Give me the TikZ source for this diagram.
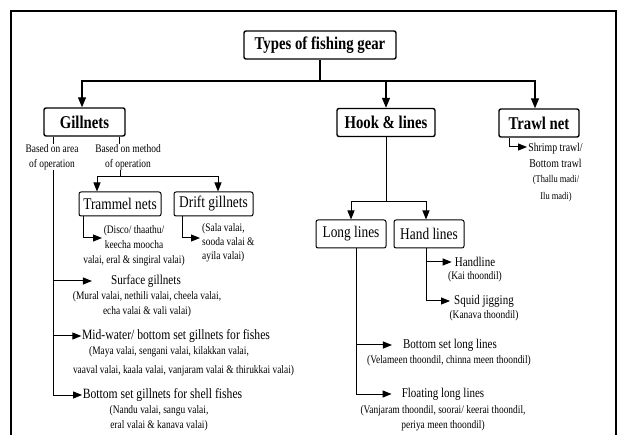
\documentclass[tikz,border=0pt]{standalone}
\usepackage{fontspec}
\setmainfont{Liberation Serif}[FakeStretch=0.82]
\usetikzlibrary{arrows.meta,calc}
\begin{document}
\begin{tikzpicture}[x=1pt,y=-1pt,
  box/.style={draw, rounded corners=2pt, line width=1.4pt, inner sep=0pt, minimum height=28pt, font=\bfseries\fontsize{18}{20}\selectfont},
  subbox/.style={draw, rounded corners=2pt, line width=1pt, inner sep=0pt, minimum height=24pt, font=\fontsize{16.3}{18}\selectfont},
  ln/.style={line width=1pt},
  arr/.style={line width=1.2pt, -{Triangle[length=10pt,width=8pt]}},
  sarr/.style={line width=1pt, -{Triangle[length=9pt,width=7pt]}},
  mid/.style={inner sep=0pt, font=\fontsize{13.4}{15}\selectfont},
  midg/.style={inner sep=0pt, font=\fontsize{14.2}{15}\selectfont},
  small/.style={inner sep=0pt, align=center, font=\fontsize{11.5}{15}\selectfont},
]
\useasboundingbox (0,0) rectangle (621,435);
\draw[line width=1.3pt] (11,11) rectangle (616,460);

% top level
\node[box, minimum width=152pt] (title) at (320,45) {Types of fishing gear};
\node[box, minimum width=81pt] (gill) at (84.5,122) {Gillnets};
\node[box, minimum width=98pt] (hook) at (386,122.5) {Hook \& lines};
\node[box, minimum width=80pt] (trawl) at (539,123) {Trawl net};
\coordinate (bus) at (320,81);
\draw[line width=1.2pt] (title.south) -- (bus);
\draw[arr] (bus) -| ([xshift=-2.5pt]gill.north);
\draw[arr] (bus) -| (hook.north);
\draw[arr] (bus) -| ([xshift=-4pt]trawl.north);

% gillnets
\node[small] (area) at (52,157) {Based on area\\of operation};
\node[small] (meth) at (128,157) {Based on method\\of operation};
\coordinate (ax) at (53,0);
\coordinate (mx) at (119,0);
\draw[ln] (gill.south -| ax) -- (area.north -| ax);
\draw[ln] (gill.south -| mx) -- (meth.north -| mx);
\coordinate (split) at (120,177);
\draw[ln] (meth.south -| split) -- (split);
\node[subbox, minimum width=82pt] (tram) at (120,204) {Trammel nets};
\node[subbox, minimum width=79pt] (drift) at (213.5,204) {Drift gillnets};
\draw[sarr] (split) -| ([xshift=-23pt]tram.north);
\draw[sarr] (split) -| ([xshift=4.5pt]drift.north);

\node[small] (tramsub) at (134,245.5) {(Disco/ thaathu/\\keecha moocha\\valai, eral \& singiral valai)};
\coordinate (tt) at (102,238);
\draw[sarr] ([xshift=-37pt]tram.south) |- (tt);
\node[small, align=left, anchor=west, font=\fontsize{11.5}{14}\selectfont] (driftsub) at (202,243) {(Sala valai,\\sooda valai \&\\ayila valai)};
\coordinate (dt) at (200,238);
\draw[sarr] ([xshift=-31.5pt]drift.south) |- (dt);

\node[midg, font=\fontsize{13.6}{15}\selectfont] (surf) at (146,281) {Surface gillnets};
\node[small] (surfsub) at (147,304.5) {(Mural valai, nethili valai, cheela valai,\\echa valai \& vali valai)};
\node[midg] (midw) at (176,336) {Mid-water/ bottom set gillnets for fishes};
\node[small] (midsub1) at (169,352) {(Maya valai, sengani valai, kilakkan valai,};
\node[small] (midsub2) at (183.5,371) {vaaval valai, kaala valai, vanjaram valai \& thirukkai valai)};
\node[midg] (botg) at (162.5,395) {Bottom set gillnets for shell fishes};
\node[small] (botgsub) at (159,418.5) {(Nandu valai, sangu valai,\\eral valai \& kanava valai)};
\draw[sarr] (area.south -| ax) |- ([xshift=-19pt]surf.west);
\draw[sarr] (area.south -| ax) |- ([xshift=-0.5pt]midw.west);
\draw[sarr] (area.south -| ax) |- ([xshift=-0.5pt]botg.west);

% hook & lines
\coordinate (hsplit) at (386,202);
\draw[ln] (hook.south) -- (hsplit);
\node[subbox, minimum width=70pt, minimum height=28pt] (long) at (351,234) {Long lines};
\node[subbox, minimum width=70pt, minimum height=28pt] (hand) at (429,234) {Hand lines};
\draw[sarr] (hsplit) -| (long.north);
\draw[sarr] (hsplit) -| ([xshift=-3pt]hand.north);

\node[mid] (handl) at (475,262) {Handline};
\node[small] (handlsub) at (475,277) {(Kai thoondil)};
\node[mid] (squid) at (484,301) {Squid jigging};
\node[small] (squidsub) at (484,316) {(Kanava thoondil)};
\coordinate (hx) at (426,0);
\draw[sarr] (hand.south -| hx) |- ([xshift=-3pt]handl.west);
\draw[sarr] (hand.south -| hx) |- ([xshift=-4pt]squid.west);

\node[mid] (bsll) at (450,345) {Bottom set long lines};
\node[small] (bsllsub) at (449,361) {(Velameen thoondil, chinna meen thoondil)};
\node[mid] (fll) at (443,394) {Floating long lines};
\node[small] (fllsub) at (443,418.5) {(Vanjaram thoondil, soorai/ keerai thoondil,\\periya meen thoondil)};
\coordinate (lx) at (356,0);
\draw[sarr] (long.south -| lx) |- ([xshift=-11pt]bsll.west);
\draw[sarr] (long.south -| lx) |- ([xshift=-10pt]fll.west);

% trawl
\node[inner sep=0pt, align=center, font=\fontsize{12}{16}\selectfont] (shrimp) at (555.5,155) {Shrimp trawl/\\Bottom trawl};
\node[inner sep=0pt, align=center, font=\fontsize{10.3}{17}\selectfont] (thallu) at (556,188.5) {(Thallu madi/\\Ilu madi)};
\coordinate (tx) at (509,0);
\coordinate (ttip) at (527,147);
\draw[sarr] (trawl.south -| tx) |- (ttip);
\end{tikzpicture}
\end{document}
